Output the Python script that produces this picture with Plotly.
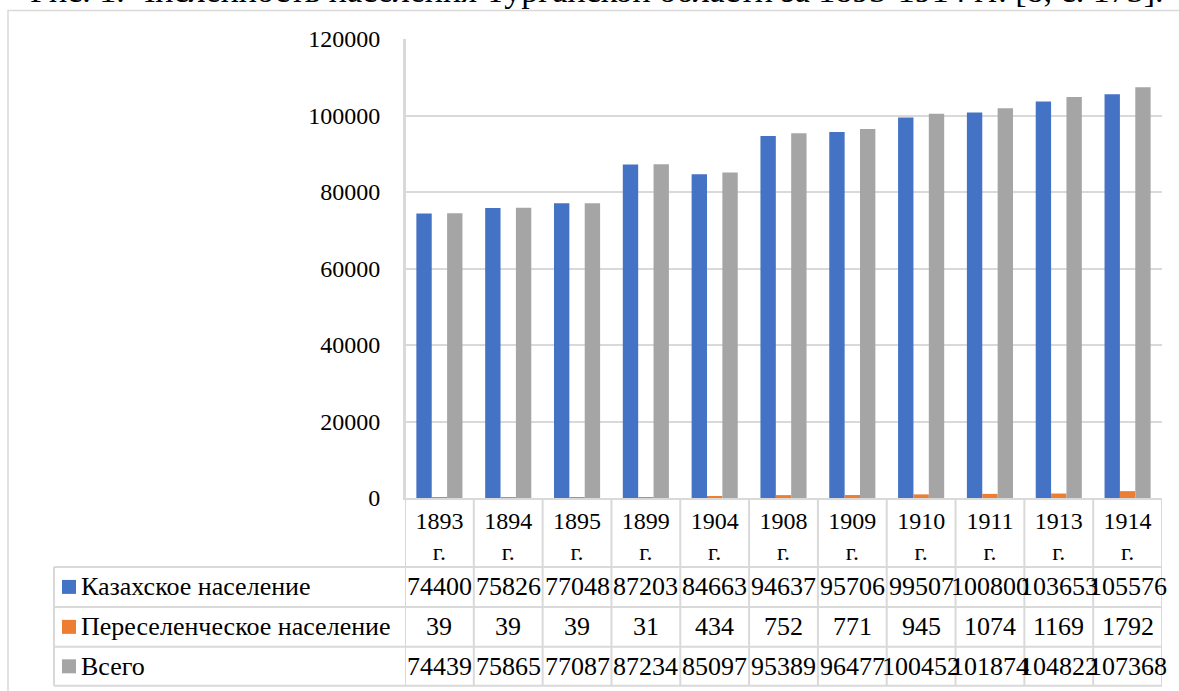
import plotly.graph_objects as go

# ---- data ----
years = ["1893", "1894", "1895", "1899", "1904", "1908", "1909", "1910", "1911", "1913", "1914"]
year_suffix = "г."
series_names = ["Казахское население", "Переселенческое население", "Всего"]
kazakh = [74400, 75826, 77048, 87203, 84663, 94637, 95706, 99507, 100800, 103653, 105576]
settlers = [39, 39, 39, 31, 434, 752, 771, 945, 1074, 1169, 1792]
total = [74439, 75865, 77087, 87234, 85097, 95389, 96477, 100452, 101874, 104822, 107368]
series_values = [kazakh, settlers, total]
colors = ["#4472C4", "#ED7D31", "#A5A5A5"]
y_ticks = [0, 20000, 40000, 60000, 80000, 100000, 120000]
caption = "Рис. 1. Численность населения Тургайской области за 1893-1914 гг. [8, с. 173]."

# ---- geometry (pixels) ----
W, H = 1179, 691
L, R, T, B = 405, 1162, 38.5, 498
GRID = "#D9D9D9"
FONT = "Liberation Serif, Times New Roman, serif"


def px_x(px):
    return (px - L) / (R - L)


def px_y(py):
    return (B - py) / (B - T)


n = len(years)
cats = list(range(n))

fig = go.Figure()
for name, vals, col in zip(series_names, series_values, colors):
    fig.add_trace(go.Bar(x=cats, y=vals, name=name, marker=dict(color=col, line=dict(width=0))))

shapes = []
annotations = []

# table horizontal lines
row_lines = [567, 607, 647, 686]
for ly in row_lines:
    shapes.append(dict(type="line", xref="paper", yref="paper", x0=px_x(54), x1=1, y0=px_y(ly), y1=px_y(ly),
                       line=dict(color=GRID, width=2), layer="below"))
# left border of table
shapes.append(dict(type="line", xref="paper", yref="paper", x0=px_x(54), x1=px_x(54), y0=px_y(567), y1=px_y(686),
                   line=dict(color=GRID, width=2)))
# vertical category lines
for i in range(n + 1):
    shapes.append(dict(type="line", xref="x", yref="paper", x0=i - 0.5, x1=i - 0.5, y0=0 if i > 0 else 1,
                       y1=px_y(686), line=dict(color=GRID, width=2)))
# outer chart frame
shapes.append(dict(type="rect", xref="paper", yref="paper", x0=px_x(8), x1=px_x(1200), y0=px_y(720), y1=px_y(10),
                   line=dict(color=GRID, width=1.5), layer="below"))

row_centers = [587, 627, 666.5]
for r, (name, vals, col) in enumerate(zip(series_names, series_values, colors)):
    cy = row_centers[r]
    shapes.append(dict(type="rect", xref="paper", yref="paper", x0=px_x(62), x1=px_x(76),
                       y0=px_y(cy + 7), y1=px_y(cy - 7), fillcolor=col, line=dict(width=0)))
    annotations.append(dict(text=name, xref="paper", yref="paper", x=px_x(79), y=px_y(cy), xanchor="left",
                            yanchor="middle", showarrow=False, font=dict(family=FONT, size=26, color="black")))
    for i, v in enumerate(vals):
        annotations.append(dict(text=str(v), xref="x", yref="paper", x=i, y=px_y(cy), xanchor="center",
                                yanchor="middle", showarrow=False, font=dict(family=FONT, size=26, color="black")))

annotations.append(dict(text=caption, xref="paper", yref="paper", x=px_x(28), y=px_y(-10), xanchor="left",
                        yanchor="middle", showarrow=False, font=dict(family=FONT, size=34, color="black")))

fig.update_layout(
    width=W, height=H,
    margin=dict(l=L, r=W - R, t=T, b=H - B, pad=0),
    paper_bgcolor="white", plot_bgcolor="white",
    barmode="group", bargap=0.33, bargroupgap=0,
    showlegend=False,
    shapes=shapes, annotations=annotations,
    font=dict(family=FONT, size=24, color="black"),
    xaxis=dict(tickmode="array", tickvals=cats, ticktext=[f"{y}<br>{year_suffix}" for y in years],
               range=[-0.5, n - 0.5], showgrid=False, zeroline=False, showline=True, linecolor=GRID, linewidth=2,
               ticks="", tickfont=dict(family=FONT, size=24, color="black"), ticklabelstandoff=0),
    yaxis=dict(range=[0, 120000], tickvals=y_ticks, ticktext=[str(t) for t in y_ticks], showgrid=True,
               gridcolor=GRID, gridwidth=2, zeroline=False, showline=True, linecolor=GRID, linewidth=2,
               ticks="", tickfont=dict(family=FONT, size=24, color="black"), ticklabelstandoff=18),
)

fig.write_html("out.html", config={"displayModeBar": False},
               post_script="document.body.style.margin='0';")
